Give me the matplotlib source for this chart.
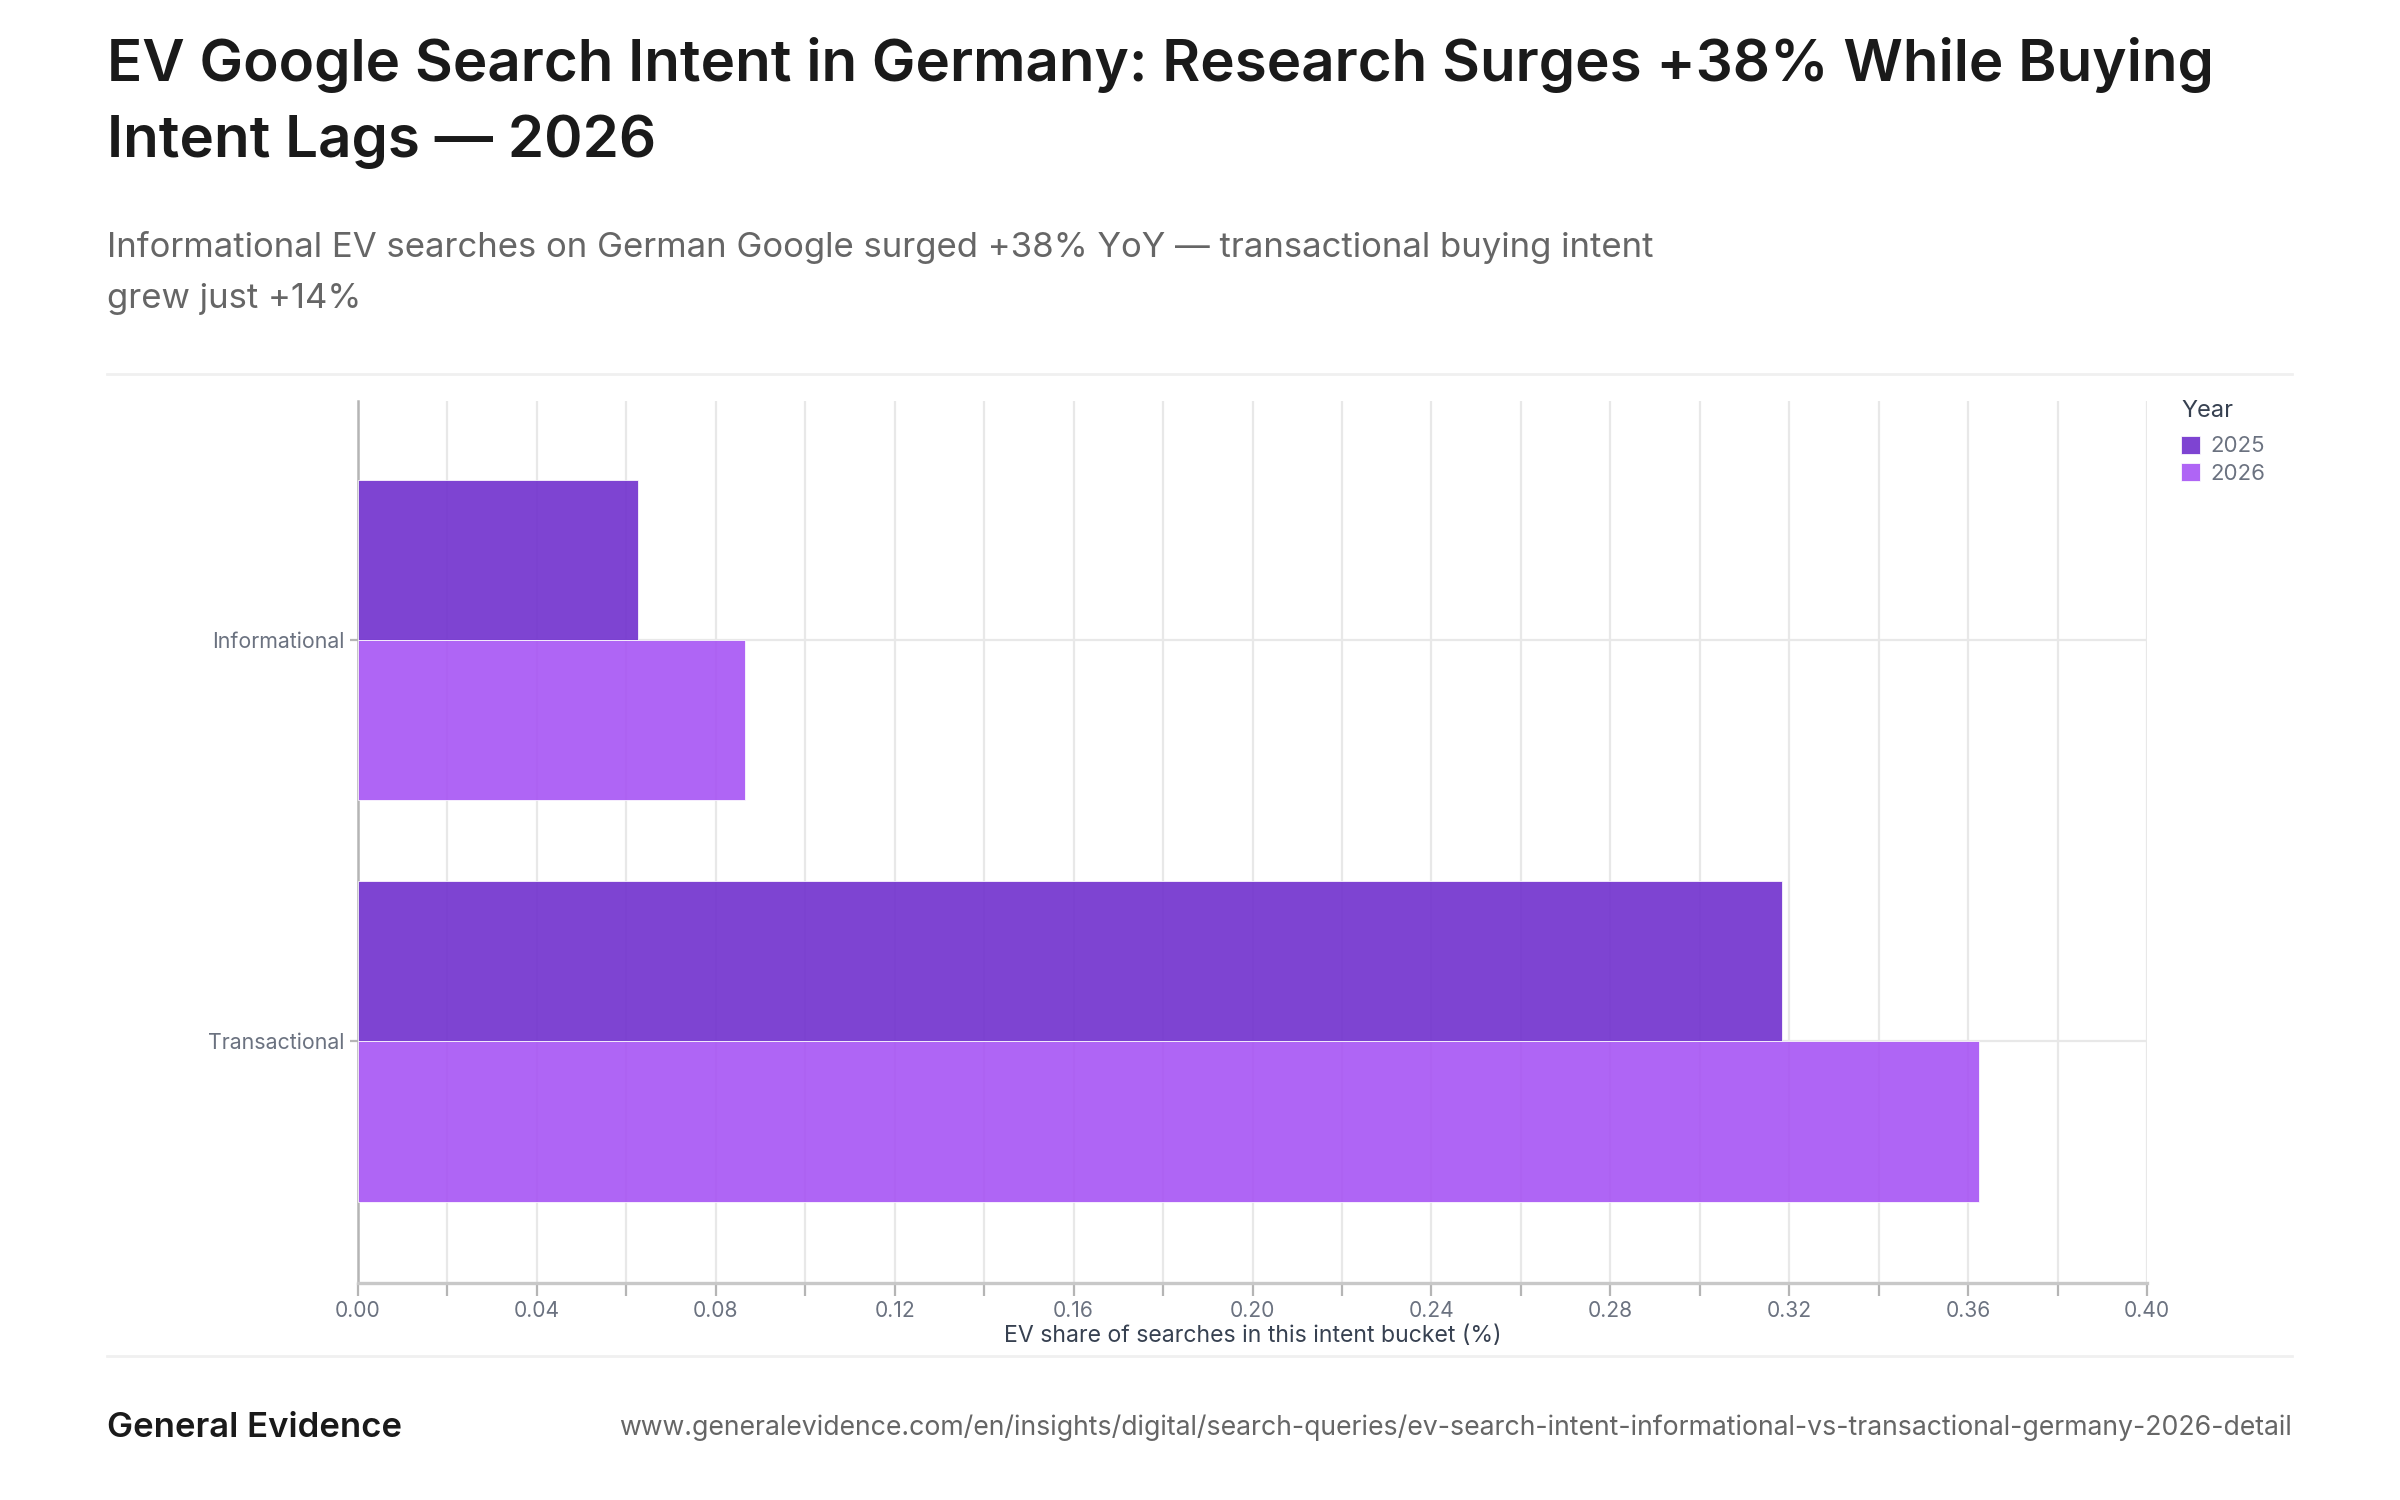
import matplotlib
matplotlib.use("Agg")
import matplotlib.pyplot as plt
from matplotlib.lines import Line2D
import numpy as np

# ---------------- data ----------------
categories = ["Informational", "Transactional"]
years = ["2025", "2026"]
values_2025 = [0.0626, 0.3183]
values_2026 = [0.0865, 0.3624]
x_ticks = [0.00, 0.04, 0.08, 0.12, 0.16, 0.20, 0.24, 0.28, 0.32, 0.36, 0.40]
x_tick_labels = ["0.00", "0.04", "0.08", "0.12", "0.16", "0.20", "0.24", "0.28", "0.32", "0.36", "0.40"]

title = "EV Google Search Intent in Germany: Research Surges +38% While Buying\nIntent Lags \u2014 2026"
subtitle = "Informational EV searches on German Google surged +38% YoY \u2014 transactional buying intent\ngrew just +14%"
x_label = "EV share of searches in this intent bucket (%)"
brand = "General Evidence"
url = "www.generalevidence.com/en/insights/digital/search-queries/ev-search-intent-informational-vs-transactional-germany-2026-detail"

# ---------------- style ----------------
FONT = ["Inter", "DejaVu Sans"]
plt.rcParams["font.family"] = FONT
c2025 = "#7030ce"
c2026 = "#a754f4"
W, H = 2400, 1500

fig = plt.figure(figsize=(12, 7.5), dpi=200)
fig.patch.set_facecolor("white")

def fx(px):
    return px / W

def fy(py):
    return 1 - py / H

ax = fig.add_axes([fx(358), fy(1283), fx(2147) - fx(358), fy(401) - fy(1283)])

y = np.arange(len(categories))
h = 0.4
b1 = ax.barh(y - h / 2, values_2025, height=h, color=c2025, alpha=0.9,
             edgecolor=(1, 1, 1, 0.25), linewidth=0.3, label=years[0], zorder=3)
b2 = ax.barh(y + h / 2, values_2026, height=h, color=c2026, alpha=0.9,
             edgecolor=(1, 1, 1, 0.25), linewidth=0.3, label=years[1], zorder=3)

ax.set_xlim(0, 0.40)
ax.set_ylim(1.603, -0.596)
ax.set_xticks(x_ticks)
ax.set_xticklabels(x_tick_labels)
ax.set_xticks(np.arange(0.02, 0.40, 0.04), minor=True)
ax.set_yticks(y)
ax.set_yticklabels(categories)

ax.grid(True, axis="x", which="both", color="#e8e8e8", linewidth=0.8, zorder=0)
ax.grid(True, axis="y", which="major", color="#e8e8e8", linewidth=0.8, zorder=0)
ax.set_axisbelow(True)

for s in ["top", "right"]:
    ax.spines[s].set_visible(False)
ax.spines["left"].set_color("#b5b5b5")
ax.spines["left"].set_linewidth(0.9)
ax.spines["bottom"].set_color("#c8c8c8")
ax.spines["bottom"].set_linewidth(1.2)

ax.tick_params(axis="x", which="both", length=4.5, width=0.8, color="#b5b5b5",
               labelsize=7.6, labelcolor="#6b7280", pad=2)
ax.tick_params(axis="y", which="major", length=3, width=0.8, color="#b5b5b5",
               labelsize=7.7, labelcolor="#6b7280", pad=2)
ax.set_xlabel(x_label, fontsize=8.3, color="#374151", labelpad=1.5)

# legend
leg = fig.legend(handles=[b1, b2], labels=years, title="Year",
                 loc="upper left", bbox_to_anchor=(fx(2181), fy(400)),
                 frameon=False, fontsize=8, title_fontsize=8.5,
                 handlelength=0.85, handleheight=0.85, handletextpad=0.45,
                 labelspacing=0.3, borderpad=0, borderaxespad=0, alignment="left")
leg._legend_box.sep = 5
for t in leg.get_texts():
    t.set_color("#6b7280")
leg.get_title().set_color("#374151")

# header / footer text
fig.text(fx(107), fy(103), title, fontsize=21, fontweight="semibold", color="#1a1a1a",
         va="center", ha="left", linespacing=1.5)
fig.text(fx(107), fy(273), subtitle, fontsize=12.5, color="#666666",
         va="center", ha="left", linespacing=1.75)

# separators
fig.add_artist(Line2D([fx(107), fx(2292)], [fy(374), fy(374)], color="#f0f0f0", linewidth=1.0))
fig.add_artist(Line2D([fx(107), fx(2292)], [fy(1356), fy(1356)], color="#f0f0f0", linewidth=1.0))

fig.text(fx(107), fy(1428), brand, fontsize=12.5, fontweight="semibold", color="#1a1a1a",
         va="center", ha="left")
fig.text(fx(2292), fy(1428), url, fontsize=9.6, color="#666666", va="center", ha="right")

fig.savefig("out.png", dpi=200, facecolor="white")
